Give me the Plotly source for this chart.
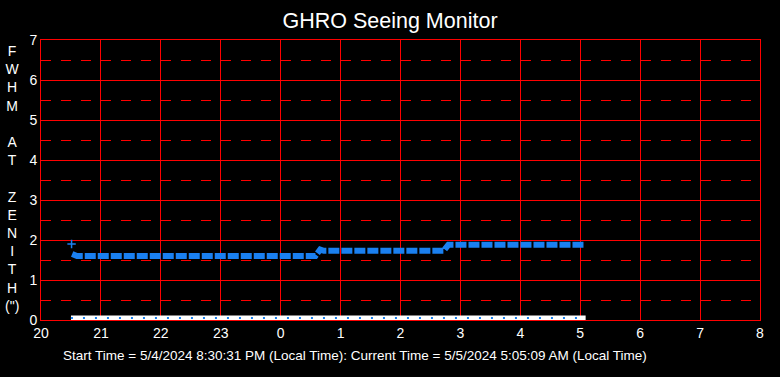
import plotly.graph_objects as go

# Data (hours since midnight of start day; values in arcsec)
fwhm_t = [20.52, 20.60, 24.58, 24.66, 24.72, 26.72, 26.80, 26.86, 29.08]
fwhm_v = [1.65, 1.60, 1.60, 1.76, 1.73, 1.73, 1.88, 1.88, 1.88]
outlier_t = [20.51]
outlier_v = [1.90]
base_t = [20.50, 29.09]
base_v = [0.05, 0.05]

tick_vals = [20, 21, 22, 23, 24, 25, 26, 27, 28, 29, 30, 31, 32]
tick_text = ["20", "21", "22", "23", "0", "1", "2", "3", "4", "5", "6", "7", "8"]

ylabel_letters = ["F", "W", "H", "M", "", "A", "T", "", "Z", "E", "N", "I", "T", "H", "(\")"]

blue = "#1a80f0"
red = "#ff0000"

fig = go.Figure()
fig.add_trace(go.Scatter(x=base_t, y=base_v, mode="lines",
                         line=dict(color="white", width=5), hoverinfo="skip"))
fig.add_trace(go.Scatter(x=base_t, y=base_v, mode="lines",
                         line=dict(color=blue, width=2, dash="2px,10px"), hoverinfo="skip"))
fig.add_trace(go.Scatter(x=fwhm_t, y=fwhm_v, mode="lines",
                         line=dict(color=blue, width=6, dash="11px,2px")))
fig.add_trace(go.Scatter(x=outlier_t, y=outlier_v, mode="markers",
                         marker=dict(symbol="cross-thin", size=6, line=dict(color=blue, width=1.5))))

fig.update_layout(
    width=780, height=377,
    paper_bgcolor="black", plot_bgcolor="black",
    margin=dict(l=41, r=20, t=40, b=57, pad=0),
    showlegend=False,
    font=dict(family="Arial, Liberation Sans, sans-serif", color="white", size=14),
    title=dict(text="GHRO Seeing Monitor", x=0.5, xanchor="center", y=1 - 20 / 377, yref="container",
               yanchor="middle", font=dict(size=21.5, color="white")),
    xaxis=dict(range=[20, 32], tickvals=tick_vals, ticktext=tick_text, automargin=False,
               showgrid=True, gridcolor=red, gridwidth=1,
               showline=True, linecolor=red, linewidth=1, mirror=True,
               zeroline=False, ticks="", ticklen=0,
               tickfont=dict(size=14, color="white")),
    yaxis=dict(range=[0, 7], dtick=1, showgrid=True, gridcolor=red, gridwidth=1, automargin=False,
               showline=True, linecolor=red, linewidth=1, mirror=True,
               zeroline=False, ticks="", ticklen=0,
               tickfont=dict(size=14, color="white"),
               minor=dict(dtick=0.5, showgrid=True, gridcolor=red, gridwidth=1,
                          griddash="10px,10px")),
    annotations=[
        dict(text="<br>".join(ylabel_letters), xref="paper", yref="paper",
             x=-29 / 719, y=(320 - 178.5) / 280, xanchor="center", yanchor="middle", showarrow=False,
             font=dict(size=14, color="white")),
        dict(text="Start Time = 5/4/2024 8:30:31 PM (Local Time): Current Time = 5/5/2024 5:05:09 AM (Local Time)",
             xref="paper", yref="paper", x=(354.5 - 41) / 719, y=-35 / 280, xanchor="center",
             yanchor="middle", showarrow=False, font=dict(size=13.5, color="white")),
    ],
)

fig.write_html("out.html", config={"displayModeBar": False},
               post_script="document.body.style.margin='0';document.body.style.background='black';")
